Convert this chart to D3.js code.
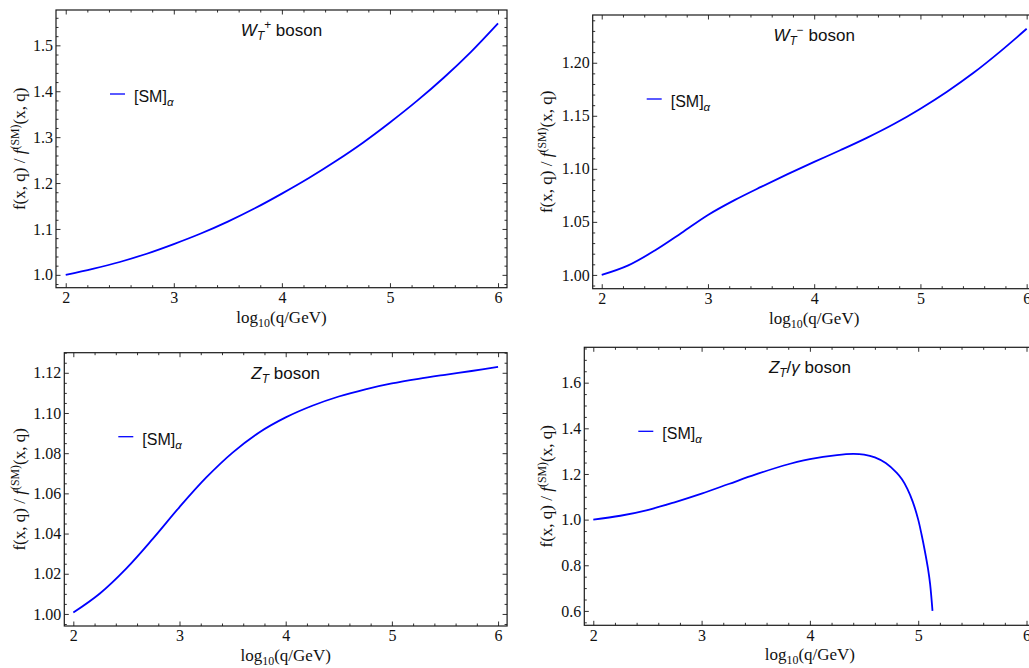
<!DOCTYPE html>
<html><head><meta charset="utf-8">
<script src="https://cdn.jsdelivr.net/npm/d3@7"></script>
<style>body{margin:0;background:#fff;overflow:hidden} svg{display:block}</style>
</head><body>
<svg id="c" width="1029" height="668"></svg>
<script>
// ---- data ----
const qGrid = [2,2.25,2.5,2.75,3,3.25,3.5,3.75,4,4.25,4.5,4.75,5,5.25,5.5,5.75,6];
const wPlusRatio  = [1.000,1.013,1.028,1.046,1.067,1.090,1.116,1.145,1.177,1.211,1.248,1.288,1.332,1.379,1.430,1.486,1.548];
const wMinusRatio = [1.000,1.009,1.023,1.0395,1.0565,1.0705,1.083,1.095,1.1065,1.1177,1.1294,1.1422,1.1567,1.1727,1.1905,1.2105,1.232];
const zTRatio     = [1.0007,1.0102,1.0227,1.0375,1.0532,1.0678,1.0803,1.0903,1.0978,1.1036,1.1082,1.1118,1.1147,1.1170,1.1190,1.1209,1.1229];
const zgQ     = [2,2.25,2.5,2.75,3,3.25,3.5,3.75,4,4.25,4.4,4.5,4.6,4.7,4.8,4.85,4.9,4.95,5.0,5.03,5.06,5.09,5.11,5.132];
const zgRatio = [1.0,1.017,1.042,1.076,1.114,1.156,1.198,1.236,1.265,1.283,1.288,1.285,1.273,1.248,1.206,1.177,1.135,1.078,1.000,0.937,0.866,0.786,0.717,0.600];

const xTicks = [2,3,4,5,6];
const wPlusTicks  = [1.0,1.1,1.2,1.3,1.4,1.5];
const wMinusTicks = [1.00,1.05,1.10,1.15,1.20];
const zTTicks     = [1.00,1.02,1.04,1.06,1.08,1.10,1.12];
const zgTicks     = [0.6,0.8,1.0,1.2,1.4,1.6];

const legendLabel = "[SM]";

// ---- layout ----
const panels = [
  {L:56,   R:507,    T:10,    B:287.7, xd:[1.91,6.083], yd:[0.972,1.577], yt:wPlusTicks, yfmt:".1f", minor:0.02,  xs:qGrid, ys:wPlusRatio,  title:0, ylabX:25},
  {L:592.7,R:1035.7, T:15,    B:288.7, xd:[1.915,6.085], yd:[0.987,1.245], yt:wMinusTicks, yfmt:".2f", minor:0.01, xs:qGrid, ys:wMinusRatio, title:1, ylabX:552},
  {L:64.3, R:507.1,  T:352.7, B:626,   xd:[1.915,6.085], yd:[0.994,1.130], yt:zTTicks, yfmt:".2f", minor:0.005,   xs:qGrid, ys:zTRatio,     title:2, ylabX:25},
  {L:584.3,R:1035.5, T:347.3, B:625.3, xd:[1.917,6.083], yd:[0.537,1.755], yt:zgTicks, yfmt:".1f", minor:0.05,    xs:zgQ,   ys:zgRatio,     title:3, ylabX:552}
];

const svg = d3.select("#c");
const frameColor = "#1a1a1a";
const serif = "'Liberation Serif','Times New Roman',serif";
const sans = "'Liberation Sans',Arial,Helvetica,sans-serif";

function rangeSteps(a,b,s){const out=[];const n0=Math.ceil(a/s-1e-9),n1=Math.floor(b/s+1e-9);for(let n=n0;n<=n1;n++)out.push(+(n*s).toFixed(6));return out;}

function richText(g, parts, size){
  let cur = 0;
  parts.forEach(p=>{
    const o = p[1]||{};
    const sh = (o.shift||0);
    g.append("tspan").text(p[0])
      .attr("font-size", size*(o.scale||1))
      .attr("font-style", o.italic?"italic":"normal")
      .attr("dy", sh-cur);
    cur = sh;
  });
}

panels.forEach(p=>{
  const x = d3.scaleLinear().domain(p.xd).range([p.L,p.R]);
  const y = d3.scaleLinear().domain(p.yd).range([p.B,p.T]);
  const g = svg.append("g");
  const xMinor = rangeSteps(p.xd[0],p.xd[1],0.2).filter(v=>!xTicks.some(t=>Math.abs(t-v)<1e-6));
  const yMinor = rangeSteps(p.yd[0],p.yd[1],p.minor).filter(v=>!p.yt.some(t=>Math.abs(t-v)<1e-6));

  const major = 4.5, minorLen = 2.5;
  g.append("g").attr("transform",`translate(0,${p.B})`)
    .call(d3.axisBottom(x).tickValues(xTicks).tickSize(-major).tickSizeOuter(0).tickPadding(4).tickFormat(d3.format("d")));
  g.append("g").attr("transform",`translate(0,${p.B})`)
    .call(d3.axisBottom(x).tickValues(xMinor).tickSize(-minorLen).tickSizeOuter(0).tickFormat(""));
  g.append("g").attr("transform",`translate(0,${p.T})`)
    .call(d3.axisTop(x).tickValues(xTicks).tickSize(-major).tickSizeOuter(0).tickFormat(""));
  g.append("g").attr("transform",`translate(0,${p.T})`)
    .call(d3.axisTop(x).tickValues(xMinor).tickSize(-minorLen).tickSizeOuter(0).tickFormat(""));
  g.append("g").attr("transform",`translate(${p.L},0)`)
    .call(d3.axisLeft(y).tickValues(p.yt).tickSize(-major).tickSizeOuter(0).tickPadding(3).tickFormat(d3.format(p.yfmt)));
  g.append("g").attr("transform",`translate(${p.L},0)`)
    .call(d3.axisLeft(y).tickValues(yMinor).tickSize(-minorLen).tickSizeOuter(0).tickFormat(""));
  g.append("g").attr("transform",`translate(${p.R},0)`)
    .call(d3.axisRight(y).tickValues(p.yt).tickSize(-major).tickSizeOuter(0).tickFormat(""));
  g.append("g").attr("transform",`translate(${p.R},0)`)
    .call(d3.axisRight(y).tickValues(yMinor).tickSize(-minorLen).tickSizeOuter(0).tickFormat(""));

  g.selectAll(".domain").remove();
  g.selectAll(".tick line").attr("stroke",frameColor).attr("stroke-width",0.9);
  g.selectAll(".tick text").attr("font-family",serif).attr("font-size",16).attr("fill","#111");

  g.append("rect").attr("x",p.L).attr("y",p.T).attr("width",p.R-p.L).attr("height",p.B-p.T)
    .attr("fill","none").attr("stroke",frameColor).attr("stroke-width",1.2);

  // curve
  const pts = p.xs.map((v,i)=>[v,p.ys[i]]);
  g.append("path").datum(pts)
    .attr("d", d3.line().x(d=>x(d[0])).y(d=>y(d[1])).curve(d3.curveCatmullRom.alpha(0.5)))
    .attr("fill","none").attr("stroke","#0000ff").attr("stroke-width",1.8);

  // title
  const cx = (p.L+p.R)/2;
  const t = g.append("text").attr("x",cx).attr("y",p.T+26).attr("text-anchor","middle")
    .attr("font-family",sans).attr("fill","#111");
  const ts = 17;
  if(p.title===0) richText(t,[["W",{italic:1}],["T",{italic:1,scale:0.7,shift:4}],["+",{scale:0.7,shift:-7}],[" boson",{}]],ts);
  if(p.title===1) richText(t,[["W",{italic:1}],["T",{italic:1,scale:0.7,shift:4}],["\u2212",{scale:0.7,shift:-7}],[" boson",{}]],ts);
  if(p.title===2) richText(t,[["Z",{italic:1}],["T",{italic:1,scale:0.7,shift:4}],[" boson",{}]],ts);
  if(p.title===3) richText(t,[["Z",{italic:1}],["T",{italic:1,scale:0.7,shift:4}],["/",{}],["\u03b3",{italic:1}],[" boson",{}]],ts);

  // legend
  g.append("line").attr("x1",p.L+54).attr("x2",p.L+69).attr("y1",p.T+84).attr("y2",p.T+84)
    .attr("stroke","#0000ff").attr("stroke-width",1.3);
  const lt = g.append("text").attr("x",p.L+78).attr("y",p.T+92).attr("font-family",sans).attr("fill","#111");
  richText(lt,[[legendLabel,{}],["\u03b1",{italic:1,scale:0.72,shift:4}]],16);

  // x label
  const xl = g.append("text").attr("x",cx).attr("y",p.B+35).attr("text-anchor","middle")
    .attr("font-family",serif).attr("fill","#111");
  richText(xl,[["log",{}],["10",{scale:0.7,shift:4}],["(q/GeV)",{}]],17);

  // y label
  const yl = g.append("text").attr("transform",`translate(${p.ylabX},${(p.T+p.B)/2}) rotate(-90)`)
    .attr("text-anchor","middle").attr("font-family",serif).attr("fill","#111");
  richText(yl,[["f(x, q) / ",{}],["f",{italic:1}],["(SM)",{scale:0.7,shift:-6}],["(x, q)",{}]],17);
});
</script>
</body></html>
